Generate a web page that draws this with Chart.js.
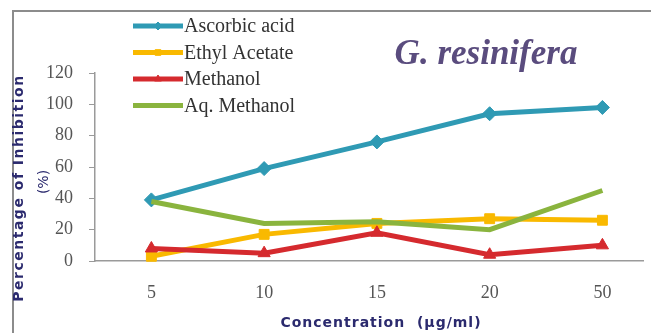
<!DOCTYPE html>
<html>
<head>
<meta charset="utf-8">
<script src="https://cdn.jsdelivr.net/npm/chart.js@4.4.1/dist/chart.umd.min.js"></script>
<style>
  html, body { margin: 0; padding: 0; background: #ffffff; }
  #c { display: block; }
</style>
</head>
<body>
<canvas id="c" width="651" height="333"></canvas>
<script>
// Concentrations tested (µg/ml)
const concentrations = ['5', '10', '15', '20', '50'];

// Percentage of inhibition for each extract
const ascorbicAcid = [39, 59, 76, 94, 98];
const ethylAcetate = [3, 17, 24, 27, 26];
const methanol     = [8, 5, 18, 4, 10];
const aqMethanol   = [38, 24, 25, 20, 45];

const yTicks = [0, 20, 40, 60, 80, 100, 120];

const seriesNames  = ['Ascorbic acid', 'Ethyl Acetate', 'Methanol', 'Aq. Methanol'];
const seriesColors = ['#2f9ab4', '#f9b900', '#d52a2e', '#8ab43e'];

const navy = '#2b2a6e';

// Evenly spaced category positions: point i sits at x = i
const toPoints = values => values.map((v, i) => ({ x: i, y: v }));

// White background and outer frame lines behind everything
const framePlugin = {
  id: 'frame',
  beforeDraw(chart) {
    const ctx = chart.ctx;
    ctx.save();
    ctx.fillStyle = '#ffffff';
    ctx.fillRect(0, 0, chart.width, chart.height);
    ctx.strokeStyle = '#8c8c8c';
    ctx.lineWidth = 2;
    ctx.beginPath();
    ctx.moveTo(13, 340);
    ctx.lineTo(13, 11);
    ctx.lineTo(660, 11);
    ctx.stroke();
    ctx.restore();
  }
};

// Title, axis captions and legend drawn on top of the plot
const decorPlugin = {
  id: 'decor',
  afterDraw(chart) {
    const ctx = chart.ctx;
    ctx.save();

    // species title
    ctx.fillStyle = '#5a4c7e';
    ctx.font = 'italic bold 35px "Liberation Serif"';
    ctx.textAlign = 'center';
    ctx.textBaseline = 'middle';
    ctx.fillText('G. resinifera', 486, 55);

    // x axis caption
    ctx.fillStyle = navy;
    ctx.font = 'bold 14px "DejaVu Sans"';
    ctx.letterSpacing = '1px';
    ctx.fillText('Concentration  (µg/ml)', 381, 323);

    // y axis caption (two lines)
    ctx.save();
    ctx.translate(19, 188);
    ctx.rotate(-Math.PI / 2);
    ctx.font = 'bold 14px "DejaVu Sans"';
    ctx.letterSpacing = '1.5px';
    ctx.fillText('Percentage of Inhibition', 0, 0);
    ctx.restore();
    ctx.save();
    ctx.translate(44, 182);
    ctx.rotate(-Math.PI / 2);
    ctx.font = '14px "DejaVu Sans"';
    ctx.letterSpacing = '0px';
    ctx.fillText('(%)', 0, 0);
    ctx.restore();
    ctx.letterSpacing = '0px';

    // legend
    chart.data.datasets.forEach((ds, i) => {
      const y = 26 + i * 26.5;
      ctx.strokeStyle = ds.borderColor;
      ctx.lineWidth = 5;
      ctx.lineCap = 'butt';
      ctx.beginPath();
      ctx.moveTo(133, y);
      ctx.lineTo(183, y);
      ctx.stroke();
      if (ds.pointRadius > 0) {
        ctx.fillStyle = ds.borderColor;
        ctx.strokeStyle = ds.borderColor;
        ctx.lineWidth = 1;
        Chart.helpers.drawPoint(ctx, { pointStyle: ds.pointStyle, radius: 4, rotation: 0, borderWidth: 1 }, 158, y);
      }
      ctx.fillStyle = '#333333';
      ctx.font = '20px "Liberation Serif"';
      ctx.textAlign = 'left';
      ctx.textBaseline = 'middle';
      ctx.fillText(ds.label, 184, y + 1);
    });

    ctx.restore();
  }
};

const makeSet = (i, values, style, radius, order) => ({
  label: seriesNames[i],
  data: toPoints(values),
  borderColor: seriesColors[i],
  backgroundColor: seriesColors[i],
  borderWidth: 5,
  pointStyle: style,
  pointRadius: radius,
  pointBorderWidth: 1,
  pointBackgroundColor: seriesColors[i],
  pointBorderColor: seriesColors[i],
  tension: 0,
  order: order
});

new Chart(document.getElementById('c'), {
  type: 'line',
  data: {
    datasets: [
      makeSet(0, ascorbicAcid, 'rectRot', 7, 4),
      makeSet(1, ethylAcetate, 'rect', 7, 3),
      makeSet(2, methanol, 'triangle', 7, 2),
      makeSet(3, aqMethanol, 'circle', 0, 1)
    ]
  },
  options: {
    responsive: false,
    animation: false,
    clip: false,
    layout: { padding: { top: 73, right: 0, bottom: 0, left: 0 } },
    plugins: { legend: { display: false }, tooltip: { enabled: false } },
    scales: {
      x: {
        type: 'linear',
        min: -0.5,
        max: 4.36,
        afterBuildTicks(s) { s.ticks = concentrations.map((c, i) => ({ value: i })); },
        grid: { display: false },
        border: { display: true, color: '#9a9a9a', width: 1.5 },
        ticks: {
          color: '#555555', padding: 13, font: { family: 'Liberation Serif', size: 18 },
          callback: (v) => concentrations[v]
        },
        afterFit(s) { s.height = 72; }
      },
      y: {
        min: 0,
        max: 120,
        afterBuildTicks(s) { s.ticks = yTicks.map(v => ({ value: v })); },
        grid: { display: true, drawOnChartArea: false, tickLength: 6, color: '#9a9a9a', lineWidth: 1 },
        border: { display: true, color: '#9a9a9a', width: 1.5 },
        ticks: { color: '#555555', padding: 16, font: { family: 'Liberation Serif', size: 18 } },
        afterFit(s) { s.width = 95; }
      }
    }
  },
  plugins: [framePlugin, decorPlugin]
});
</script>
</body>
</html>
